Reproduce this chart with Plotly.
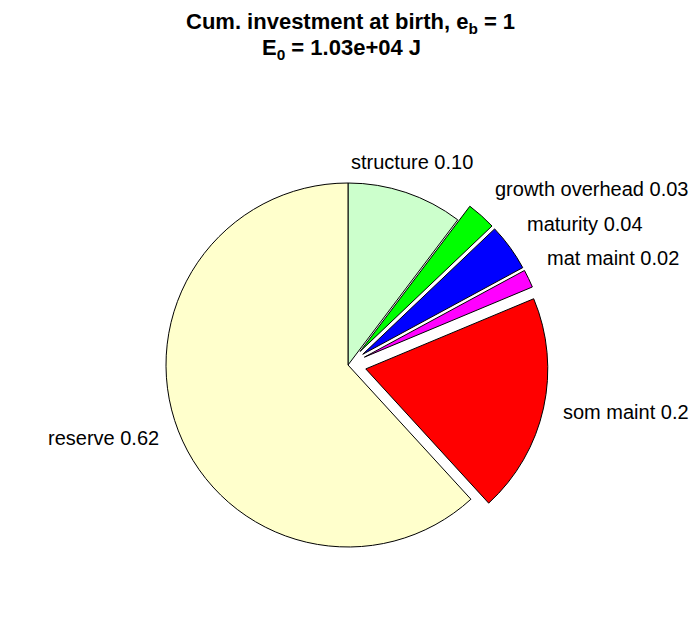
import math
import plotly.graph_objects as go

# ---- data ----
categories = ["structure", "growth overhead", "maturity", "mat maint", "som maint", "reserve"]
fractions = [0.103, 0.026, 0.042, 0.016, 0.195, 0.618]
label_values = ["0.10", "0.03", "0.04", "0.02", "0.2", "0.62"]
colors = ["#CCFFCC", "#00FF00", "#0000FF", "#FF00FF", "#FF0000", "#FFFFCC"]
explode = [0, 0.1, 0.1, 0.1, 0.1, 0]
title_line1 = "Cum. investment at birth, e<sub>b</sub> = 1"
title_line2 = "E<sub>0</sub> = 1.03e+04 J"

texts = [f"{c} {v}" for c, v in zip(categories, label_values)]

# ---- layout geometry ----
W, H = 696, 618
cx, cy, r = 348, 365, 182
half = r * (1 + max(explode))
FONT = "Liberation Sans, Arial, sans-serif"

fig = go.Figure(go.Pie(
    labels=categories,
    values=fractions,
    text=texts,
    textinfo="none",
    sort=False,
    direction="clockwise",
    rotation=0,
    pull=explode,
    marker=dict(colors=colors, line=dict(color="black", width=1)),
    hoverinfo="text",
    hovertext=texts,
    domain=dict(x=[(cx - half) / W, (cx + half) / W],
                y=[(H - cy - half) / H, (H - cy + half) / H]),
    showlegend=False,
))

# slice labels placed MATLAB-style along each slice bisector
total = sum(fractions)
annotations = []
cum = 0.0
for txt, f, ex in zip(texts, fractions, explode):
    mid = (cum + f / 2) / total * 2 * math.pi
    cum += f
    s, c = math.sin(mid), math.cos(mid)
    rr = r * (1.1 + ex)
    px = cx + rr * s
    py = cy - rr * c
    if s > 0.35:
        xa = "left"
    elif s < -0.35:
        xa = "right"
    else:
        xa = "center"
    if c > 0.3:
        ya = "bottom"
    elif c < -0.7:
        ya = "top"
    else:
        ya = "middle"
    annotations.append(dict(
        text=txt, x=px / W, y=1 - py / H, xref="paper", yref="paper",
        xanchor=xa, yanchor=ya, showarrow=False,
        font=dict(family=FONT, size=20, color="black"),
    ))

annotations.append(dict(
    text=f"<b>{title_line1}</b>", x=350 / W, y=1 - 23 / H, xref="paper", yref="paper",
    xanchor="center", yanchor="middle", showarrow=False,
    font=dict(family=FONT, size=22, color="black"),
))
annotations.append(dict(
    text=f"<b>{title_line2}</b>", x=341 / W, y=1 - 49 / H, xref="paper", yref="paper",
    xanchor="center", yanchor="middle", showarrow=False,
    font=dict(family=FONT, size=22, color="black"),
))

fig.update_layout(
    width=W, height=H,
    margin=dict(l=0, r=0, t=0, b=0),
    paper_bgcolor="white",
    plot_bgcolor="white",
    annotations=annotations,
)

fig.write_html(
    "out.html",
    config={"displayModeBar": False},
    post_script="document.body.style.margin='0';document.body.style.overflow='hidden';",
)
